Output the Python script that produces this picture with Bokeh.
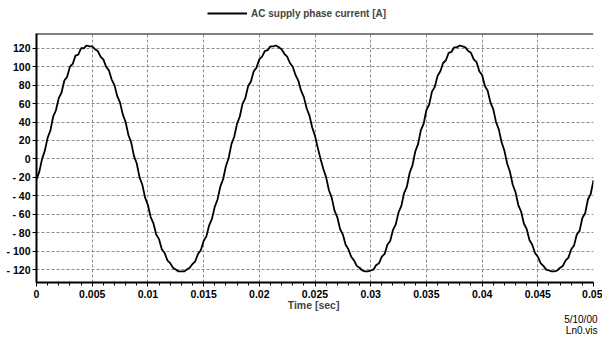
from bokeh.plotting import figure
from bokeh.layouts import column
from bokeh.models import (Range1d, Legend, LegendItem, Span, Title,
                          CustomJSTickFormatter, SingleIntervalTicker)
from bokeh.embed import file_html
from bokeh.resources import INLINE

time_step = 0.00025
current = [
    -22, -14, 0, 9, 23, 31, 46, 53, 66, 72,
    85, 89, 100, 103, 112, 113, 120, 120, 123, 122,
    122, 119, 117, 111, 108, 100, 96, 86, 80, 68,
    61, 48, 40, 26, 18, 3, -5, -20, -28, -42,
    -50, -63, -70, -82, -87, -98, -102, -110, -113, -118,
    -120, -122, -122, -122, -120, -118, -114, -111, -103, -99,
    -89, -84, -72, -65, -52, -44, -30, -22, -8, 1,
    16, 24, 38, 46, 60, 66, 79, 84, 95, 99,
    108, 111, 117, 118, 122, 122, 123, 121, 119, 114,
    111, 104, 100, 91, 85, 74, 67, 55, 47, 34,
    25, 12, 0, -11, -20, -34, -42, -56, -63, -76,
    -82, -93, -98, -106, -110, -116, -118, -121, -122, -122,
    -121, -120, -115, -113, -106, -103, -93, -89, -77, -71,
    -58, -51, -37, -30, -15, -7, 8, 16, 31, 38,
    53, 59, 73, 78, 90, 95, 104, 107, 115, 116,
    121, 121, 123, 122, 121, 117, 115, 108, 105, 95,
    91, 79, 74, 61, 54, 40, 32, 18, 9, -5,
    -14, -28, -36, -50, -57, -70, -76, -88, -93, -102,
    -106, -113, -116, -120, -121, -122, -122, -121, -118, -116,
    -110, -107, -98, -94, -82, -78, -64, -59, -44, -38,
    -23,
]
time = [i * time_step for i in range(len(current))]

series_label = "AC supply phase current [A]"
x_label = "Time  [sec]"
x_limits = (0.0, 0.05)
y_limits = (-134, 136)
x_tick_step = 0.005
y_tick_step = 20
footer_date = "5/10/00"
footer_file = "Ln0.vis"

FONT = "Liberation Sans"
W = 602

# ---------- legend strip ----------
top = figure(width=W, height=33, x_range=Range1d(1, 2), y_range=Range1d(0, 1),
             x_axis_type=None, y_axis_type=None,
             output_backend="svg", toolbar_location=None,
             min_border=0, min_border_left=0, min_border_right=0,
             min_border_top=0, min_border_bottom=0,
             background_fill_color="white", border_fill_color="white")
top.outline_line_color = None
top.xgrid.visible = False
top.ygrid.visible = False
proxy = top.line(time, current, line_color="black", line_width=1.8)
legend = Legend(items=[LegendItem(label=series_label, renderers=[proxy])],
                location=(171, 14), orientation="horizontal",
                border_line_color=None, background_fill_alpha=0,
                label_text_font=FONT, label_text_font_size="10px",
                label_text_font_style="bold",
                glyph_width=40, glyph_height=12, label_height=12,
                label_standoff=4, padding=0, margin=0, spacing=0)
top.add_layout(legend)

# ---------- main chart ----------
p = figure(width=W, height=308,
           x_range=Range1d(*x_limits), y_range=Range1d(*y_limits),
           output_backend="svg", toolbar_location=None,
           min_border_left=36, min_border_right=9,
           min_border_top=0, min_border_bottom=59,
           background_fill_color="white", border_fill_color="white")
p.outline_line_color = None

p.line(time, current, line_color="black", line_width=1.8)

p.xaxis.ticker = SingleIntervalTicker(interval=x_tick_step, num_minor_ticks=5)
p.yaxis.ticker = SingleIntervalTicker(interval=y_tick_step, num_minor_ticks=0)
p.xaxis.formatter = CustomJSTickFormatter(code="""
    return tick.toFixed(3).replace(/0+$/, '').replace(/\\.$/, '');
""")
p.yaxis.formatter = CustomJSTickFormatter(code="""
    var v = Math.round(tick);
    return v < 0 ? '- ' + (-v) : '' + v;
""")
for ax in (p.xaxis, p.yaxis):
    ax.axis_line_color = "black"
    ax.axis_line_width = 2
    ax.major_tick_line_color = "black"
    ax.major_tick_line_width = 1
    ax.major_tick_in = 0
    ax.major_tick_out = 4
    ax.minor_tick_in = 0
    ax.minor_tick_out = 3
    ax.minor_tick_line_color = "black"
    ax.major_label_text_font = FONT
    ax.major_label_text_font_size = "10.5px"
    ax.major_label_text_font_style = "bold"
    ax.major_label_text_color = "black"
p.yaxis.major_label_standoff = 2
p.xaxis.major_label_standoff = 3
p.xaxis.axis_label = x_label
p.xaxis.axis_label_text_font = FONT
p.xaxis.axis_label_text_font_size = "10.5px"
p.xaxis.axis_label_text_font_style = "bold"
p.xaxis.axis_label_standoff = -2

for g in (p.xgrid, p.ygrid):
    g.grid_line_color = "#8c8c8c"
    g.grid_line_dash = "3 2"
    g.grid_line_width = 1

p.add_layout(Span(location=y_limits[1], dimension="width",
                  line_color="black", line_width=2))

for txt, so in ((footer_date, -3), (footer_file, -1)):
    p.add_layout(Title(text=txt, align="right", offset=-4, standoff=so,
                       text_font=FONT, text_font_size="10px",
                       text_font_style="normal", text_color="black"), "below")

layout = column(top, p, spacing=0)
open("out.html", "w").write(file_html(layout, INLINE))
